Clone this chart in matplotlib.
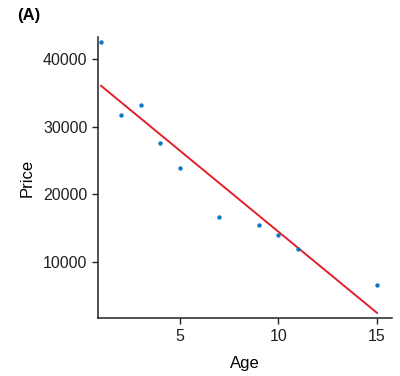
import numpy as np
from matplotlib import pyplot as plt

plt.rcParams['font.family'] = ['Liberation Sans', 'DejaVu Sans']

# Data
age = [1, 2, 3, 4, 5, 7, 9, 10, 11, 15]
price = [42550, 31670, 33200, 27640, 23840, 16700, 15520, 13940, 11980, 6650]
x_ticks = [5, 10, 15]
y_ticks = [10000, 20000, 30000, 40000]

# Least squares fit line
slope, intercept = np.polyfit(age, price, 1)
fit_x = np.array([min(age), max(age)])
fit_y = slope * fit_x + intercept

fig = plt.figure(figsize=(4, 3.76), dpi=100)
ax = fig.add_axes([0.245, 0.154, 0.735, 0.748])

ax.scatter(age, price, s=10, color='#0a78c8', zorder=3, linewidths=0)
ax.plot(fit_x, fit_y, color='#e3202a', lw=1.4)

ax.set_xlim(0.84, 15.76)
ax.set_ylim(1730, 43250)
ax.set_xticks(x_ticks)
ax.set_yticks(y_ticks)
ax.tick_params(direction='out', length=4.5, width=1, colors='#222222', labelsize=11.5, pad=3)
for side in ['top', 'right']:
    ax.spines[side].set_visible(False)
for side in ['left', 'bottom']:
    ax.spines[side].set_color('#222222')
    ax.spines[side].set_linewidth(1.1)

ax.set_xlabel('Age', fontsize=12, labelpad=9)
ax.set_ylabel('Price', fontsize=12, labelpad=6)
fig.text(0.042, 0.978, '(A)', fontsize=12, fontweight='bold', va='top', ha='left')

fig.savefig('out.png', dpi=100)
